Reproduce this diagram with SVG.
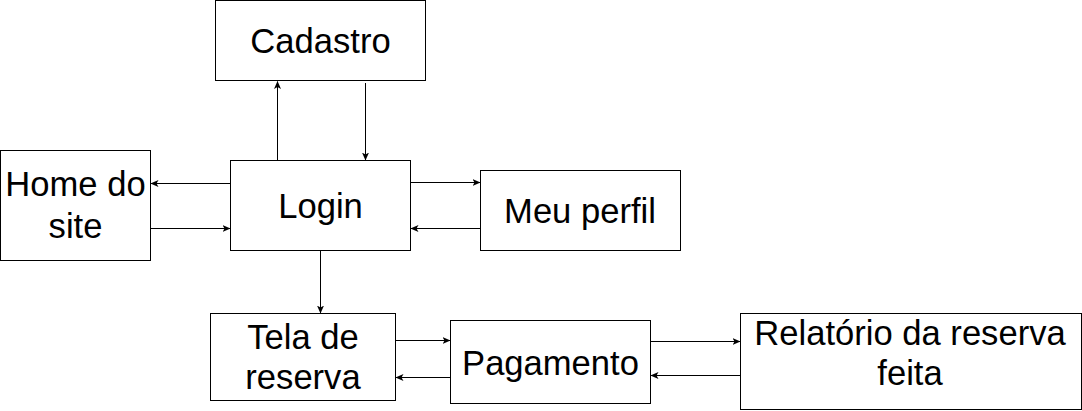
<svg xmlns="http://www.w3.org/2000/svg" width="1082" height="411" viewBox="0 0 1082 411">
<style>
.box{fill:#fff;stroke:#000;stroke-width:1}
.lbl{font-family:"Liberation Sans",Arial,sans-serif;font-size:34.6px;fill:#000;text-anchor:middle}
.edge{stroke:#000;stroke-width:1;fill:none;marker-end:url(#arr)}
</style>
<defs>
<marker id="arr" viewBox="0 0 8 8" refX="7.5" refY="4" markerWidth="8" markerHeight="8" markerUnits="userSpaceOnUse" orient="auto">
<path d="M0,0.5 L8,4 L0,7.5 L2,4 Z" fill="#000"/>
</marker>
</defs>
<rect width="1082" height="411" fill="#fff"/>
<g id="cadastro"><rect class="box" x="215.5" y="0.5" width="210" height="80"/><text class="lbl" x="320.5" y="53.3">Cadastro</text></g>
<g id="home"><rect class="box" x="0.5" y="150.5" width="150" height="110"/><text class="lbl" x="75.5" y="196">Home do</text><text class="lbl" x="75.5" y="238.3">site</text></g>
<g id="login"><rect class="box" x="230.5" y="160.5" width="180" height="90"/><text class="lbl" x="320.5" y="218.3">Login</text></g>
<g id="perfil"><rect class="box" x="480.5" y="170.5" width="200" height="80"/><text class="lbl" x="580" y="223.3">Meu perfil</text></g>
<g id="tela"><rect class="box" x="210.5" y="313.5" width="185" height="87"/><text class="lbl" x="303" y="349.3">Tela de</text><text class="lbl" x="303" y="389.3">reserva</text></g>
<g id="pagamento"><rect class="box" x="450.5" y="320.5" width="200" height="83"/><text class="lbl" x="550.5" y="375">Pagamento</text></g>
<g id="relatorio"><rect class="box" x="740.5" y="313.5" width="341" height="96"/><text class="lbl" x="910" y="345">Relatório da reserva</text><text class="lbl" x="910" y="385">feita</text></g>
<g id="connectors">
<path class="edge" d="M277.5,160 L277.5,81.5"/>
<path class="edge" d="M365.5,83 L365.5,160"/>
<path class="edge" d="M230,183.5 L151,183.5"/>
<path class="edge" d="M151,228.5 L230,228.5"/>
<path class="edge" d="M411,182.5 L480,182.5"/>
<path class="edge" d="M480,228.5 L411,228.5"/>
<path class="edge" d="M320.5,251 L320.5,313"/>
<path class="edge" d="M396,340.5 L450,340.5"/>
<path class="edge" d="M450,377.5 L396,377.5"/>
<path class="edge" d="M651,341.5 L740,341.5"/>
<path class="edge" d="M740,375.5 L651,375.5"/>
</g>
</svg>
